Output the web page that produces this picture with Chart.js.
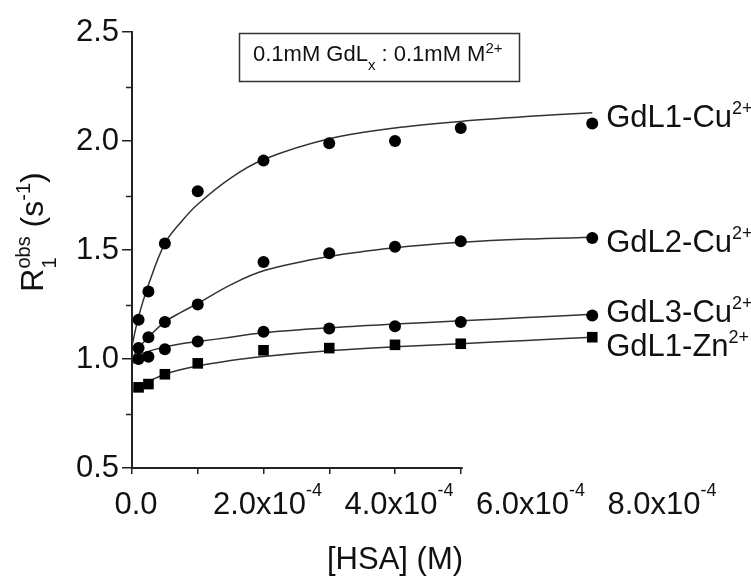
<!DOCTYPE html>
<html>
<head>
<meta charset="utf-8">
<style>
html, body { margin: 0; padding: 0; background: #fff; }
#wrap { width: 751px; height: 579px; }
</style>
<script src="https://cdn.jsdelivr.net/npm/chart.js@4.4.1/dist/chart.umd.min.js"></script>
</head>
<body>
<div id="wrap"><canvas id="relaxChart" width="751" height="579"></canvas></div>
<script>
// measured points, [HSA] in M
const hsa = [1e-5, 2.5e-5, 5e-5, 1e-4, 2e-4, 3e-4, 4e-4, 5e-4, 7e-4];
const gdl1Cu = [1.18, 1.31, 1.53, 1.77, 1.91, 1.99, 2.00, 2.06, 2.08];
const gdl2Cu = [1.05, 1.10, 1.17, 1.25, 1.445, 1.485, 1.515, 1.54, 1.555];
const gdl3Cu = [1.00, 1.01, 1.045, 1.08, 1.125, 1.14, 1.15, 1.17, 1.20];
const gdl1Zn = [0.87, 0.885, 0.93, 0.98, 1.04, 1.05, 1.065, 1.07, 1.10];

// fitted curves
const fitHsa = [0, 1e-5, 2.5e-5, 5e-5, 7.5e-5, 1e-4, 1.5e-4, 2e-4, 3e-4, 4e-4, 5e-4, 6e-4, 7e-4];
const fitGdl1Cu = [1.06, 1.195, 1.34, 1.53, 1.63, 1.71, 1.83, 1.915, 2.01, 2.06, 2.09, 2.112, 2.13];
const fitGdl2Cu = [1.00, 1.05, 1.10, 1.17, 1.215, 1.255, 1.34, 1.405, 1.47, 1.51, 1.535, 1.55, 1.558];
const fitGdl3Cu = [0.975, 1.015, 1.035, 1.055, 1.07, 1.08, 1.10, 1.12, 1.143, 1.16, 1.175, 1.19, 1.205];
const fitGdl1Zn = [0.85, 0.872, 0.897, 0.93, 0.952, 0.968, 0.993, 1.012, 1.038, 1.056, 1.07, 1.085, 1.10];

const seriesNames = ['GdL1-Cu', 'GdL2-Cu', 'GdL3-Cu', 'GdL1-Zn'];
const labelLevels = [2.116, 1.543, 1.222, 1.062];

const xTickValues = [0, 2e-4, 4e-4, 6e-4, 8e-4];
const xTickMain = ['0.0', '2.0x10', '4.0x10', '6.0x10', '8.0x10'];
const xTickExp = ['', '-4', '-4', '-4', '-4'];
const yMinorTicks = [0.75, 1.25, 1.75, 2.25];

const FONT = '"Liberation Sans", Arial, sans-serif';
const INK = '#111';

function pts(xs, ys) {
    return xs.map((x, i) => ({ x: x, y: ys[i] }));
}

function runsWidth(ctx, runs) {
    let w = 0;
    runs.forEach(r => {
        ctx.font = r.size + 'px ' + FONT;
        w += ctx.measureText(r.t).width;
    });
    return w;
}

function drawRuns(ctx, x, y, runs) {
    runs.forEach(r => {
        ctx.font = r.size + 'px ' + FONT;
        ctx.fillText(r.t, x, y + (r.dy || 0));
        if (!r.stack) x += ctx.measureText(r.t).width;
    });
}

const decorations = {
    id: 'decorations',
    afterDraw(chart) {
        const ctx = chart.ctx;
        const xs = chart.scales.x;
        const ys = chart.scales.y;
        const area = chart.chartArea;
        ctx.save();
        ctx.fillStyle = INK;
        ctx.strokeStyle = '#222';
        ctx.textBaseline = 'alphabetic';
        ctx.textAlign = 'left';

        // x axis line (stops at 5e-4 in the figure)
        ctx.lineWidth = 2;
        ctx.beginPath();
        ctx.moveTo(xs.getPixelForValue(0) - 1, area.bottom);
        ctx.lineTo(xs.getPixelForValue(5e-4) + 2, area.bottom);
        ctx.stroke();

        // minor y ticks
        ctx.lineWidth = 1.5;
        yMinorTicks.forEach(v => {
            const py = Math.round(ys.getPixelForValue(v)) + 0.5;
            ctx.beginPath();
            ctx.moveTo(area.left - 6, py);
            ctx.lineTo(area.left, py);
            ctx.stroke();
        });

        // x tick labels with exponent
        xTickValues.forEach((v, i) => {
            const runs = [{ t: xTickMain[i], size: 31 }];
            if (xTickExp[i]) runs.push({ t: xTickExp[i], size: 18, dy: -18 });
            const w = runsWidth(ctx, runs);
            drawRuns(ctx, xs.getPixelForValue(v) - w / 2 + 4, area.bottom + 46, runs);
        });

        // x title
        ctx.font = '31px ' + FONT;
        ctx.textAlign = 'center';
        ctx.fillText('[HSA] (M)', (area.left + area.right) / 2, area.bottom + 101);
        ctx.textAlign = 'left';

        // y title, rotated
        ctx.save();
        ctx.translate(area.left - 89, 232);
        ctx.rotate(-Math.PI / 2);
        const yRuns = [
            { t: 'R', size: 32 },
            { t: '1', size: 20, dy: 13, stack: true },
            { t: 'obs', size: 20, dy: -13 },
            { t: ' (s', size: 32 },
            { t: '-1', size: 20, dy: -13 },
            { t: ')', size: 32 }
        ];
        const yw = runsWidth(ctx, yRuns.filter(r => !r.stack));
        drawRuns(ctx, -yw / 2, 0, yRuns);
        ctx.restore();

        // series labels at line ends
        const lastX = xs.getPixelForValue(hsa[hsa.length - 1]) + 14;
        seriesNames.forEach((name, i) => {
            const cy = ys.getPixelForValue(labelLevels[i]);
            drawRuns(ctx, lastX, cy + 11, [
                { t: name, size: 31 },
                { t: '2+', size: 18, dy: -13 }
            ]);
        });

        // condition box
        const bx = area.left + 107;
        const by = area.top + 1;
        ctx.lineWidth = 1.5;
        ctx.strokeStyle = '#333';
        ctx.strokeRect(bx + 0.5, by + 0.5, 280, 48);
        drawRuns(ctx, bx + 14, by + 28, [
            { t: '0.1mM GdL', size: 22 },
            { t: 'x', size: 15, dy: 9 },
            { t: ' : 0.1mM M', size: 22 },
            { t: '2+', size: 15, dy: -8 }
        ]);
        ctx.restore();
    }
};

function scatterSet(label, ys, style, radius) {
    return {
        type: 'scatter',
        label: label,
        data: pts(hsa, ys),
        pointStyle: style,
        pointRadius: radius,
        pointBackgroundColor: '#000',
        pointBorderColor: '#000',
        pointBorderWidth: 0,
        showLine: false,
        order: 1
    };
}

function fitSet(label, ys) {
    return {
        type: 'line',
        label: label + ' fit',
        data: pts(fitHsa, ys),
        borderColor: '#333',
        borderWidth: 1.5,
        pointRadius: 0,
        fill: false,
        tension: 0.35,
        order: 2
    };
}

const ctx = document.getElementById('relaxChart');

new Chart(ctx, {
    data: {
        datasets: [
            fitSet(seriesNames[0], fitGdl1Cu),
            fitSet(seriesNames[1], fitGdl2Cu),
            fitSet(seriesNames[2], fitGdl3Cu),
            fitSet(seriesNames[3], fitGdl1Zn),
            scatterSet(seriesNames[0], gdl1Cu, 'circle', 6),
            scatterSet(seriesNames[1], gdl2Cu, 'circle', 6),
            scatterSet(seriesNames[2], gdl3Cu, 'circle', 6),
            scatterSet(seriesNames[3], gdl1Zn, 'rect', 7.5)
        ]
    },
    options: {
        responsive: false,
        animation: false,
        devicePixelRatio: 1,
        layout: { padding: { top: 32, right: 93, left: 0, bottom: 0 } },
        plugins: {
            legend: { display: false },
            tooltip: { enabled: false }
        },
        scales: {
            x: {
                type: 'linear',
                min: 0,
                max: 8e-4,
                afterFit: s => { s.height = 111; },
                border: { display: false },
                grid: {
                    drawOnChartArea: false,
                    drawTicks: true,
                    tickLength: 6,
                    lineWidth: 1.5,
                    color: c => (c.tick && c.tick.value <= 5.0001e-4) ? '#222' : 'rgba(0,0,0,0)'
                },
                ticks: {
                    stepSize: 1e-4,
                    callback: () => ''
                }
            },
            y: {
                min: 0.5,
                max: 2.5,
                afterFit: s => { s.width = 132; },
                border: { display: true, color: '#222', width: 2 },
                grid: {
                    drawOnChartArea: false,
                    drawTicks: true,
                    tickLength: 10,
                    lineWidth: 1.5,
                    color: '#222'
                },
                ticks: {
                    stepSize: 0.5,
                    padding: 3,
                    color: INK,
                    font: { family: FONT, size: 31 },
                    callback: v => v.toFixed(1)
                }
            }
        }
    },
    plugins: [decorations]
});
</script>
</body>
</html>
